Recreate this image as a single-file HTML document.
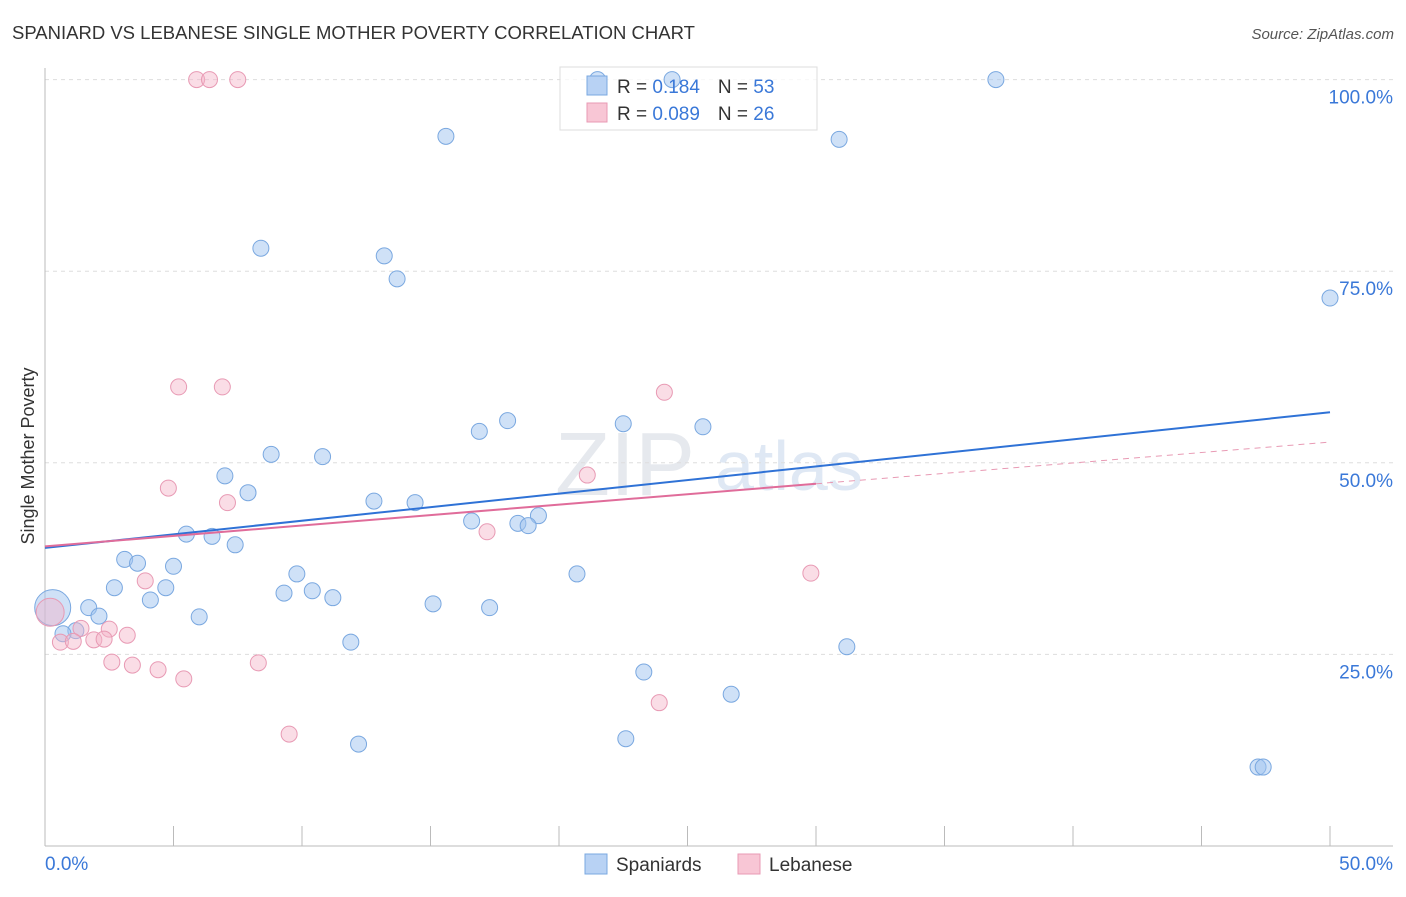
<!DOCTYPE html>
<html><head><meta charset="utf-8"><style>
body{margin:0;background:#fff;font-family:"Liberation Sans",sans-serif;}
svg text{font-family:"Liberation Sans",sans-serif;}
</style></head><body>
<svg id="chart" width="1406" height="892">
<text x="12" y="39" font-size="18.5" fill="#333">SPANIARD VS LEBANESE SINGLE MOTHER POVERTY CORRELATION CHART</text>
<text x="1394" y="39" font-size="15" fill="#555" text-anchor="end" font-style="italic">Source: ZipAtlas.com</text>
<text x="555" y="495" font-size="90" fill="#e6e9ee" font-family="Liberation Serif">ZIP</text>
<text x="715" y="490" font-size="70" fill="#dfe8f4">atlas</text>
<g id="grid"></g>
<line x1="45" y1="68" x2="45" y2="846" stroke="#bbb"/>
<line x1="45" y1="846" x2="1393" y2="846" stroke="#bbb"/>
<text x="34" y="456" font-size="18" fill="#333" text-anchor="middle" transform="rotate(-90 34 456)">Single Mother Poverty</text>
<text x="45" y="870" font-size="19" fill="#3a78d8">0.0%</text>
<text x="1393" y="870" font-size="19" fill="#3a78d8" text-anchor="end">50.0%</text>
<rect x="560" y="67" width="257" height="63" fill="rgba(255,255,255,0.75)" stroke="#ddd"/>
<g id="marks"></g>
<rect x="587" y="76" width="20" height="19" fill="#b8d2f4" stroke="#7aa8e0"/>
<rect x="587" y="103" width="20" height="19" fill="#f8c6d5" stroke="#e89ab4"/>
<text x="617" y="93" font-size="19" fill="#333">R = <tspan fill="#3a78d8"> 0.184</tspan><tspan dx="18">N = </tspan><tspan fill="#3a78d8">53</tspan></text>
<text x="617" y="120" font-size="19" fill="#333">R = <tspan fill="#3a78d8">0.089</tspan><tspan dx="18">N = </tspan><tspan fill="#3a78d8">26</tspan></text>
<rect x="585" y="854" width="22" height="20" fill="#b8d2f4" stroke="#7aa8e0"/>
<text x="616" y="871" font-size="19" fill="#333">Spaniards</text>
<rect x="738" y="854" width="22" height="20" fill="#f8c6d5" stroke="#e89ab4"/>
<text x="769" y="871" font-size="19" fill="#333">Lebanese</text>
</svg>
<script>
const yTicks=[25,50,75,100];
const yTickLabels=["25.0%","50.0%","75.0%","100.0%"];
const xTickVals=[0,5,10,15,20,25,30,35,40,45,50];
const blueX=[21.5,24.4,37.0,15.6,30.9,8.4,13.2,13.7,50.0,18.0,16.9,22.5,25.6,8.8,10.8,7.0,7.9,12.8,14.4,19.2,16.6,18.4,18.8,5.5,6.5,7.4,3.1,3.6,5.0,2.7,4.7,9.8,20.7,4.1,9.3,10.4,11.2,1.7,2.1,6.0,15.1,17.3,1.2,0.7,11.9,31.2,23.3,26.7,12.2,22.6,47.2,47.4,0.3];
const blueY=[100,100,100,92.6,92.2,78.0,77.0,74.0,71.5,55.5,54.1,55.1,54.7,51.1,50.8,48.3,46.1,45.0,44.8,43.1,42.4,42.1,41.8,40.7,40.4,39.3,37.4,36.9,36.5,33.7,33.7,35.5,35.5,32.1,33.0,33.3,32.4,31.1,30.0,29.9,31.6,31.1,28.1,27.7,26.6,26.0,22.7,19.8,13.3,14.0,10.3,10.3,31.1];
const blueR=[8,8,8,8,8,8,8,8,8,8,8,8,8,8,8,8,8,8,8,8,8,8,8,8,8,8,8,8,8,8,8,8,8,8,8,8,8,8,8,8,8,8,8,8,8,8,8,8,8,8,8,8,18];
const pinkX=[5.9,6.4,7.5,5.2,6.9,24.1,4.8,7.1,21.1,17.2,3.9,29.8,0.2,1.4,2.5,3.2,0.6,1.1,1.9,2.3,2.6,3.4,4.4,5.4,8.3,23.9,9.5];
const pinkY=[100,100,100,59.9,59.9,59.2,46.7,44.8,48.4,41.0,34.6,35.6,30.5,28.4,28.3,27.5,26.6,26.7,26.9,27.0,24.0,23.6,23.0,21.8,23.9,18.7,14.6];
const pinkR=[8,8,8,8,8,8,8,8,8,8,8,8,14,8,8,8,8,8,8,8,8,8,8,8,8,8,8];
const blueTrend=[38.9,56.6];
const pinkTrend=[39.1,52.7];
const pinkSolidEnd=30;
const NS="http://www.w3.org/2000/svg";
const xs=v=>45+v*25.7;
const ys=v=>846-v*7.664;
const grid=document.getElementById('grid'),marks=document.getElementById('marks');
function mk(tag,attrs,parent){const e=document.createElementNS(NS,tag);for(const k in attrs)e.setAttribute(k,attrs[k]);parent.appendChild(e);return e;}
yTicks.forEach((t,i)=>{
 const l=mk('line',{x1:45,x2:1393,y1:ys(t),y2:ys(t),stroke:'#ddd','stroke-dasharray':'4 4'},grid);
 
 
 const tx=mk('text',{x:1393,y:ys(t)+24,'font-size':19,fill:'#3a78d8','text-anchor':'end'},grid);
 tx.textContent=yTickLabels[i];
 
 
});
xTickVals.forEach(t=>{
 const l=mk('line',{x1:xs(t),x2:xs(t),y1:826,y2:846,stroke:'#bbb'},grid);
 
 
});
blueX.forEach((x,i)=>{
 const c=mk('circle',{cx:xs(x),cy:ys(blueY[i]),r:blueR[i],fill:'rgba(160,196,240,0.5)',stroke:'#7aa8e0','stroke-width':1},marks);
 
 
});
pinkX.forEach((x,i)=>{
 const c=mk('circle',{cx:xs(x),cy:ys(pinkY[i]),r:pinkR[i],fill:'rgba(245,180,200,0.45)',stroke:'#e89ab4','stroke-width':1},marks);
 
 
});
const bl=mk('line',{x1:xs(0),y1:ys(blueTrend[0]),x2:xs(50),y2:ys(blueTrend[1]),stroke:'#2f72d6','stroke-width':2},marks);


const pMid=pinkTrend[0]+(pinkTrend[1]-pinkTrend[0])*pinkSolidEnd/50;
const pl=mk('line',{x1:xs(0),y1:ys(pinkTrend[0]),x2:xs(pinkSolidEnd),y2:ys(pMid),stroke:'#e06c9a','stroke-width':2},marks);


const pd=mk('line',{x1:xs(pinkSolidEnd),y1:ys(pMid),x2:xs(50),y2:ys(pinkTrend[1]),stroke:'#e89ab4','stroke-width':1,'stroke-dasharray':'6 5'},marks);


</script>
</body></html>
